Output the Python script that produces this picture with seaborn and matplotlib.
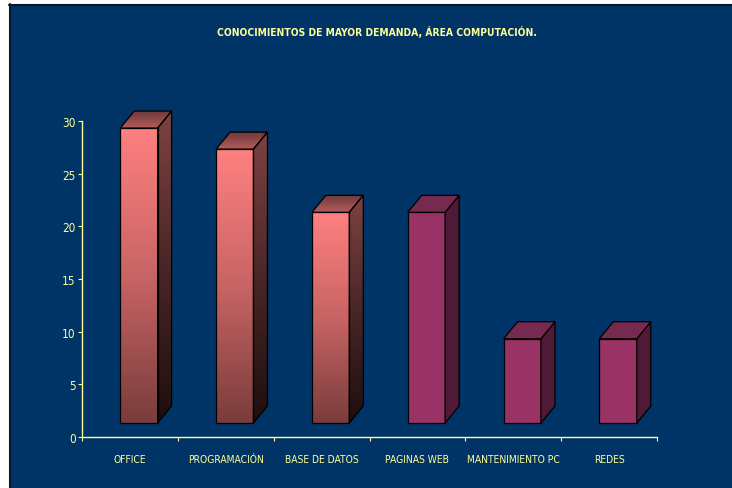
import numpy as np
import matplotlib
matplotlib.use("Agg")
import matplotlib.pyplot as plt
import seaborn as sns
from matplotlib.patches import Polygon, Rectangle
from matplotlib.colors import LinearSegmentedColormap
from matplotlib.lines import Line2D

# Data
categories = ["OFFICE", "PROGRAMACIÓN", "BASE DE DATOS", "PAGINAS WEB",
              "MANTENIMIENTO PC", "REDES"]
values = [28, 26, 20, 20, 8, 8]
yticks = [0, 5, 10, 15, 20, 25, 30]
title = "CONOCIMIENTOS DE MAYOR DEMANDA, ÁREA COMPUTACIÓN."

# Styling
navy = "#003366"
ink = "#FFFF99"
W, H, DPI = 732, 489, 100
shaded = [True, True, True, False, False, False]
front_cols = ["#FF8080"] * 3 + ["#993366"] * 3
side_flat = "#4F1A36"
top_flat = "#77294F"

sns.set_theme(style="white")
plt.rcParams["font.family"] = ["DejaVu Sans"]
plt.rcParams["font.stretch"] = "condensed"

fig = plt.figure(figsize=(W / DPI, H / DPI), dpi=DPI, facecolor=navy)

# plot area in pixels
x_left, x_right = 82, 657
y_zero, px_per_unit = 438, 316 / 30
ymax = 31.6
ax = fig.add_axes([x_left / W, (H - y_zero) / H,
                   (x_right - x_left) / W, ymax * px_per_unit / H])
ax.set_facecolor(navy)

sns.barplot(x=categories, y=values, hue=categories, palette=front_cols,
            saturation=1, width=0.39, edgecolor="black", linewidth=0.9,
            legend=False, ax=ax, zorder=3)
ax.set_xlim(-0.5, len(categories) - 0.5)
ax.set_ylim(0, ymax)

# 3D look: floor lift, sideways shift and depth of each box
floor = 14 / px_per_unit
shift = 9 / ((x_right - x_left) / len(categories))
dx = 14 / ((x_right - x_left) / len(categories))
dy = 17 / px_per_unit

front_grad = LinearSegmentedColormap.from_list("f", ["#7A3C3C", "#C86464", "#FF8080"])
side_grad = LinearSegmentedColormap.from_list("s", ["#1E0E0E", "#4A2626", "#7E4242"])
top_grad = LinearSegmentedColormap.from_list("t", ["#B45C5C", "#6E3838"])
ramp = np.linspace(0, 1, 256).reshape(-1, 1)

bars = [p for p in ax.patches]
for bar, grad in zip(bars, shaded):
    bar.set_x(bar.get_x() + shift)
    bar.set_y(bar.get_y() + floor)
    x0, y0 = bar.get_x(), bar.get_y()
    x1, y1 = x0 + bar.get_width(), y0 + bar.get_height()

    side = Polygon([(x1, y0), (x1 + dx, y0 + dy), (x1 + dx, y1 + dy), (x1, y1)],
                   closed=True, edgecolor="black", linewidth=0.9, zorder=3,
                   facecolor="none" if grad else side_flat)
    top = Polygon([(x0, y1), (x1, y1), (x1 + dx, y1 + dy), (x0 + dx, y1 + dy)],
                  closed=True, edgecolor="black", linewidth=0.9, zorder=3,
                  facecolor="none" if grad else top_flat)
    ax.add_patch(side)
    ax.add_patch(top)

    if grad:
        bar.set_facecolor("none")
        im = ax.imshow(ramp, cmap=front_grad, origin="lower", aspect="auto",
                       extent=[x0, x1, y0, y1], zorder=2, interpolation="bilinear")
        im.set_clip_path(bar)
        im = ax.imshow(ramp, cmap=side_grad, origin="lower", aspect="auto",
                       extent=[x1, x1 + dx, y0, y1 + dy], zorder=2,
                       interpolation="bilinear")
        im.set_clip_path(side)
        im = ax.imshow(ramp, cmap=top_grad, origin="lower", aspect="auto",
                       extent=[x0, x1 + dx, y1, y1 + dy], zorder=2,
                       interpolation="bilinear")
        im.set_clip_path(top)

ax.set_xlim(-0.5, len(categories) - 0.5)
ax.set_ylim(0, ymax)

# axes, ticks and labels
for s in ["top", "right"]:
    ax.spines[s].set_visible(False)
for s in ["left", "bottom"]:
    ax.spines[s].set_color(ink)
    ax.spines[s].set_linewidth(1.0)
    ax.spines[s].set_zorder(4)
ax.spines["left"].set_bounds(0, 30)

ax.set_yticks(yticks)
ax.set_yticklabels([str(t) for t in yticks])
ax.set_xticks(range(len(categories)))
ax.set_xticklabels(categories)
ax.set_xticks(np.arange(-0.5, len(categories)), minor=True)
ax.tick_params(axis="y", direction="out", length=3, width=0.8, color=ink,
               labelcolor=ink, labelsize=8.5, pad=1.5, left=True)
ax.tick_params(axis="x", which="major", length=0, labelcolor=ink,
               labelsize=7.4, pad=12)
ax.tick_params(axis="x", which="minor", direction="out", length=3, width=0.8,
               color=ink, bottom=True)
ax.set_xlabel("")
ax.set_ylabel("")
ax.grid(False)

fig.text(377 / W, 1 - 32 / H, title, color=ink, fontsize=7.4,
         fontweight="bold", ha="center", va="center")

# page margin and frame lines
fig.add_artist(Rectangle((0, 0), 8.5 / W, 1, transform=fig.transFigure,
                         facecolor="white", edgecolor="none", zorder=10))
fig.add_artist(Rectangle((0, 1 - 4.5 / H), 1, 4.5 / H, transform=fig.transFigure,
                         facecolor="white", edgecolor="none", zorder=10))
fig.add_artist(Line2D([9.5 / W, 9.5 / W], [0, 1 - 4.5 / H], transform=fig.transFigure,
                      color="#0B1626", linewidth=1.5, zorder=11))
fig.add_artist(Line2D([8.5 / W, 1], [1 - 5.5 / H, 1 - 5.5 / H], transform=fig.transFigure,
                      color="#0B1626", linewidth=1.5, zorder=11))

fig.savefig("out.png", dpi=DPI, facecolor=navy)
